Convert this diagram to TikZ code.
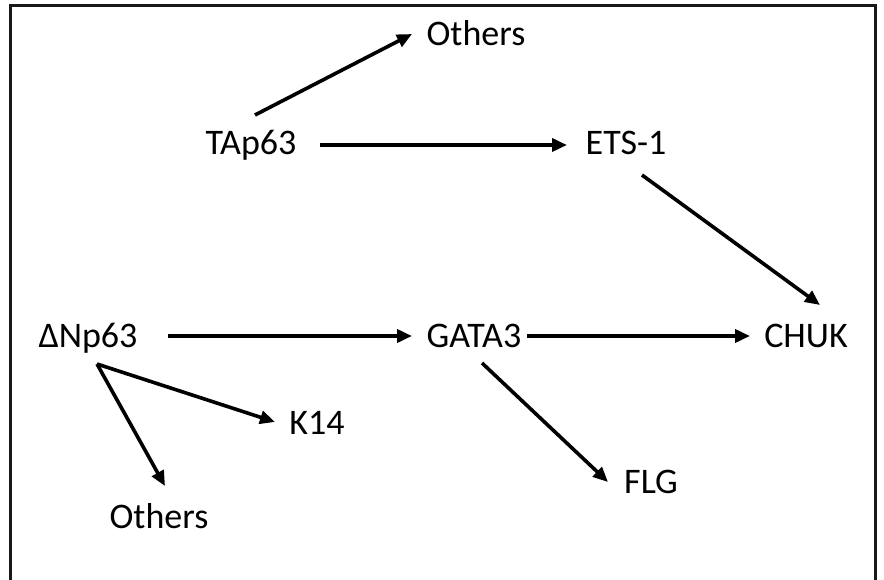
\documentclass[tikz,border=0pt]{standalone}
\usepackage{fontspec}
\setmainfont{Carlito}
\usetikzlibrary{arrows.meta}
\begin{document}
\begin{tikzpicture}[x=1pt,y=-1pt,
  lbl/.style={inner sep=0pt,anchor=base,font=\fontsize{36}{40}\selectfont},
  arr/.style={line width=3.6pt,-{Triangle[length=15pt,width=13pt]}}]
\useasboundingbox (0,0) rectangle (884,580);
\draw[line width=2.6pt,black!90] (10.3,5.5) rectangle (875.5,600);
\node[lbl] (oth1) at (476,46) {Others};
\node[lbl] (tap) at (251,155) {TAp63};
\node[lbl] (ets) at (626,155) {ETS-1};
\node[lbl] (dnp) at (88,347) {ΔNp63};
\node[lbl] (gata) at (474,347) {GATA3};
\node[lbl] (chuk) at (806,347) {CHUK};
\node[lbl] (k14) at (317,434) {K14};
\node[lbl] (flg) at (651,493) {FLG};
\node[lbl] (oth2) at (159,528) {Others};
\draw[arr] ([shift={(4,-40)}]tap.base) -- ([shift={(-64,-12)}]oth1.base);
\draw[arr] ([shift={(69,-10)}]tap.base) -- ([shift={(-59,-10)}]ets.base);
\draw[arr] ([shift={(16,20)}]ets.base) -- ([shift={(14,-42)}]chuk.base);
\draw[arr] ([shift={(80,-11)}]dnp.base) -- ([shift={(-62,-11)}]gata.base);
\draw[arr] ([shift={(53,-11)}]gata.base) -- ([shift={(-56,-11)}]chuk.base);
\draw[arr] ([shift={(9,17)}]dnp.base) -- ([shift={(-42,-12)}]k14.base);
\draw[arr] ([shift={(9,17)}]dnp.base) -- ([shift={(6,-42)}]oth2.base);
\draw[arr] ([shift={(8,16)}]gata.base) -- ([shift={(-43,-11)}]flg.base);
\end{tikzpicture}
\end{document}
